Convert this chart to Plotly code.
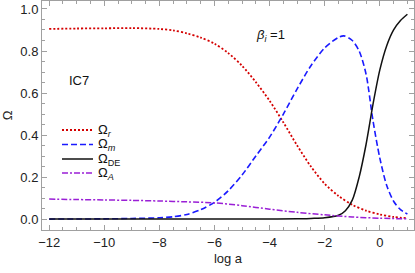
import plotly.graph_objects as go

# ---- data ----
x_r = [-12, -11, -10, -9, -8, -7.5, -7, -6.5, -6, -5.5, -5, -4.5, -4, -3.5, -3, -2.5, -2, -1.5, -1, -0.5, 0, 0.5, 1]
omega_r = [0.905, 0.907, 0.908, 0.909, 0.905, 0.898, 0.884, 0.864, 0.835, 0.79, 0.73, 0.652, 0.563, 0.46, 0.35, 0.25, 0.168, 0.11, 0.068, 0.04, 0.022, 0.01, 0.004]

x_m = [-12, -11, -10, -9, -8, -7.5, -7, -6.5, -6, -5.5, -5, -4.5, -4, -3.5, -3, -2.5, -2, -1.5, -1.3, -1, -0.75, -0.5, -0.25, 0, 0.25, 0.5, 0.75, 1]
omega_m = [0.0, 0.0005, 0.001, 0.003, 0.006, 0.011, 0.022, 0.045, 0.08, 0.135, 0.21, 0.3, 0.39, 0.5, 0.62, 0.73, 0.815, 0.865, 0.872, 0.85, 0.8, 0.69, 0.47, 0.29, 0.16, 0.085, 0.045, 0.024]

x_de = [-12, -10, -8, -6, -4, -3, -2.5, -2, -1.5, -1.25, -1, -0.75, -0.5, -0.25, 0, 0.25, 0.5, 0.75, 1]
omega_de = [0.0, 0.0, 0.0, 0.0, 0.0005, 0.001, 0.003, 0.006, 0.018, 0.04, 0.09, 0.2, 0.355, 0.545, 0.71, 0.825, 0.9, 0.945, 0.975]

x_a = [-12, -11, -10, -9, -8, -7, -6, -5, -4, -3, -2, -1, 0, 1]
omega_a = [0.095, 0.093, 0.091, 0.089, 0.086, 0.082, 0.077, 0.064, 0.047, 0.032, 0.02, 0.01, 0.004, 0.001]

x_ticks = [-12, -10, -8, -6, -4, -2, 0]
y_ticks = [0.0, 0.2, 0.4, 0.6, 0.8, 1.0]

labels = ["Ω<sub><i>r</i></sub>", "Ω<sub><i>m</i></sub>", "Ω<sub>DE</sub>", "Ω<sub><i>A</i></sub>"]
colors = ["#d40000", "#1a1aff", "#111111", "#9a1fd6"]
dashes = ["2px,2px", "6px,3px", "solid", "6px,2px,2px,2px"]
widths = [1.8, 1.6, 1.5, 1.5]

series = [(x_r, omega_r), (x_m, omega_m), (x_de, omega_de), (x_a, omega_a)]

fig = go.Figure()
for (xs, ys), name, c, d, w in zip(series, labels, colors, dashes, widths):
    fig.add_trace(go.Scatter(x=xs, y=ys, mode="lines", name=name, showlegend=False,
                             line=dict(color=c, dash=d, width=w, shape="spline", smoothing=0.8)))

FONT = "Liberation Sans, Arial, sans-serif"
frame = "#a0a0a0"

fig.update_layout(
    width=415, height=273,
    margin=dict(l=42, r=1, t=1, b=43),
    paper_bgcolor="white", plot_bgcolor="white",
    font=dict(family=FONT, size=12.5, color="#222"),
)
fig.update_xaxes(
    range=[-12.26, 1.24], tickvals=x_ticks, ticks="inside", ticklen=5, tickcolor=frame,
    showline=True, linecolor=frame, linewidth=1, mirror="ticks", showgrid=False, zeroline=False,
    minor=dict(dtick=0.5, tick0=0, ticks="inside", ticklen=3, tickcolor=frame),
    title=dict(text="log a", standoff=5, font=dict(size=13)),
    tickfont=dict(size=13), automargin=False,
)
fig.update_yaxes(
    range=[-0.052, 1.038], tickvals=y_ticks, tickformat=".1f", ticks="inside", ticklen=5, tickcolor=frame,
    showline=True, linecolor=frame, linewidth=1, mirror="ticks", showgrid=False, zeroline=False,
    minor=dict(dtick=0.05, tick0=0, ticks="inside", ticklen=3, tickcolor=frame),
    title=dict(text="Ω", standoff=4, font=dict(size=13)),
    tickfont=dict(size=13), automargin=False,
)

# text labels in the plot
fig.add_annotation(x=-3.96, y=0.876, xref="x", yref="y", text="<i>β</i><sub><i>i</i></sub> =1",
                   showarrow=False, font=dict(size=13, color="#111"))
fig.add_annotation(x=-10.9, y=0.66, xref="x", yref="y", text="IC7",
                   showarrow=False, font=dict(size=13, color="#111"))

# hand-built legend (paper coordinates)
x0p, x1p, xtp = (62 - 42) / 372, (93 - 42) / 372, (96 - 42) / 372
rows_px = [130, 144.5, 159, 173]
for py, name, c, d, w in zip(rows_px, labels, colors, dashes, widths):
    yp = (230 - py) / 229
    fig.add_shape(type="line", xref="paper", yref="paper", x0=x0p, x1=x1p, y0=yp, y1=yp,
                  line=dict(color=c, dash=d, width=w))
    fig.add_annotation(x=xtp, y=yp, xref="paper", yref="paper", text=name, showarrow=False,
                       xanchor="left", yanchor="middle", font=dict(size=13, color="#111"))

fig.write_html("out.html", config={"displayModeBar": False},
               post_script="document.body.style.margin='0';document.body.style.overflow='hidden';")
